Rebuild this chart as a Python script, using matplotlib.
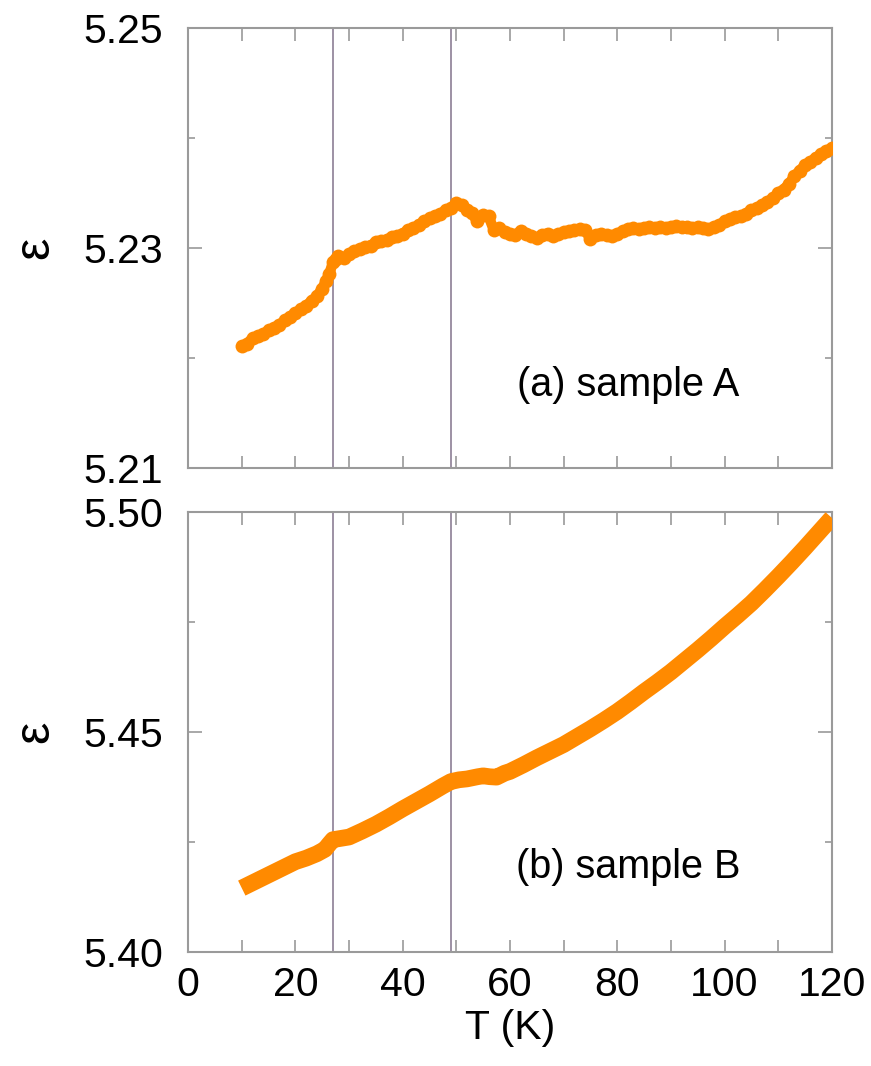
import matplotlib.pyplot as plt
from matplotlib.ticker import MultipleLocator, FuncFormatter

plt.rcParams["font.family"] = ["Liberation Sans", "DejaVu Sans"]

# sample A: temperature (K) and permittivity
tA = [10, 11, 12, 13, 14, 15, 16, 17, 18, 19, 20, 21, 22, 23, 24, 25,
      25.7, 26.3, 27, 27.5, 28, 29, 30, 31, 32, 33, 34, 35, 36, 37, 38, 39,
      40, 41, 42, 43, 44, 45, 46, 47, 48, 49, 50, 51, 52, 53, 53.8, 55, 56,
      57, 58, 59, 60, 61, 62, 63, 64, 65, 66, 67, 68, 69, 70, 71, 72, 73,
      74, 75, 76, 77, 78, 79, 80, 81, 82, 83, 84, 85, 86, 87, 88, 89, 90,
      91, 92, 93, 94, 95, 96, 97, 98, 99, 100, 101, 102, 103, 104, 105, 106,
      107, 108, 109, 110, 111, 112, 113, 114, 115, 116, 117, 118, 119, 120]
epsA = [5.2211, 5.2213, 5.2218, 5.2220, 5.2222, 5.2225, 5.2227, 5.2230,
        5.2234, 5.2237, 5.2241, 5.2244, 5.2247, 5.2252, 5.2256, 5.2263,
        5.2270, 5.2276, 5.2287, 5.2290, 5.2293, 5.2291, 5.2294, 5.2297,
        5.2299, 5.2301, 5.2302, 5.2305, 5.2306, 5.2307, 5.2310, 5.2311,
        5.2313, 5.2316, 5.2318, 5.2321, 5.2324, 5.2327, 5.2329, 5.2331,
        5.2334, 5.2336, 5.2341, 5.2339, 5.2334, 5.2332, 5.2324, 5.2330,
        5.2329, 5.2316, 5.2318, 5.2314, 5.2313, 5.2312, 5.2315, 5.2313,
        5.2311, 5.2309, 5.2312, 5.2313, 5.2311, 5.2313, 5.2314, 5.2315,
        5.2316, 5.2317, 5.2316, 5.2308, 5.2312, 5.2313, 5.2312, 5.2311,
        5.2313, 5.2315, 5.2317, 5.2318, 5.2317, 5.2318, 5.2319, 5.2318,
        5.2319, 5.2318, 5.2319, 5.2320, 5.2319, 5.2319, 5.2318, 5.2319,
        5.2318, 5.2317, 5.2319, 5.2321, 5.2324, 5.2326, 5.2328, 5.2329,
        5.2331, 5.2334, 5.2336, 5.2339, 5.2342, 5.2345, 5.2350, 5.2353,
        5.2358, 5.2365, 5.2370, 5.2375, 5.2378, 5.2382, 5.2385, 5.2388,
        5.2391]

# sample B
tB = [10, 12.5, 15, 17.5, 20, 22, 24, 25.5, 26.3, 27, 28, 30, 32.5, 35,
      37.5, 40, 42.5, 45, 47.5, 49, 50.5, 52, 54, 55, 56.2, 57.5, 59, 60,
      62.5, 65, 67.5, 70, 72.5, 75, 77.5, 80, 82.5, 85, 87.5, 90, 92.5, 95,
      97.5, 100, 102.5, 105, 107.5, 110, 112.5, 115, 117.5, 120]
epsB = [5.4145, 5.4160, 5.4175, 5.4190, 5.4205, 5.4213, 5.4223, 5.4233,
        5.4245, 5.4255, 5.4257, 5.4261, 5.4275, 5.4290, 5.4307, 5.4325,
        5.4342, 5.4359, 5.4377, 5.4387, 5.4391, 5.4393, 5.4398, 5.4400,
        5.4398, 5.4397, 5.4406, 5.4410, 5.4425, 5.4441, 5.4456, 5.4471,
        5.4489, 5.4507, 5.4526, 5.4546, 5.4568, 5.4591, 5.4613, 5.4636,
        5.4661, 5.4686, 5.4712, 5.4739, 5.4765, 5.4792, 5.4822, 5.4853,
        5.4885, 5.4918, 5.4952, 5.4986]

yticksA = [5.21, 5.23, 5.25]
yminorA = [5.22, 5.24]
yticksB = [5.40, 5.45, 5.50]
yminorB = [5.425, 5.475]

t_marks = [27, 49]
orange = "#ff8a00"
frame = "#9a9a9a"
vline = "#9d90a4"

fig = plt.figure(figsize=(8.71, 10.66), dpi=100)
axA = fig.add_axes([0.216, 0.561, 0.739, 0.413])
axB = fig.add_axes([0.216, 0.107, 0.739, 0.413])

axA.plot(tA, epsA, color=orange, lw=7.5, marker="o", ms=10, mew=0,
         solid_capstyle="round", zorder=3)
axB.plot(tB, epsB, color=orange, lw=12, solid_capstyle="butt", zorder=3)

for ax in (axA, axB):
    for tm in t_marks:
        ax.axvline(tm, color=vline, lw=1.4, zorder=2)
    ax.set_xlim(0, 120)
    ax.xaxis.set_major_locator(MultipleLocator(10))
    ax.tick_params(which="both", direction="in", top=True, right=True,
                   color=frame, width=1.2, labelsize=29.5)
    ax.tick_params(axis="y", which="major", length=10, pad=18)
    ax.tick_params(axis="y", which="minor", length=5)
    ax.tick_params(axis="x", which="major", length=9, pad=10)
    for s in ax.spines.values():
        s.set_color(frame)
        s.set_linewidth(1.5)
    ax.set_ylabel("ε", fontsize=36, labelpad=18)

axA.set_ylim(5.21, 5.25)
axA.set_yticks(yticksA)
axA.set_yticks(yminorA, minor=True)
axA.yaxis.set_major_formatter(FuncFormatter(lambda v, p: f"{v:.2f}"))
axA.tick_params(axis="x", labelbottom=False)

axB.set_ylim(5.40, 5.50)
axB.set_yticks(yticksB)
axB.set_yticks(yminorB, minor=True)
axB.yaxis.set_major_formatter(FuncFormatter(lambda v, p: f"{v:.2f}"))
axB.xaxis.set_major_formatter(
    FuncFormatter(lambda v, p: f"{v:.0f}" if round(v) % 20 == 0 else ""))
axB.set_xlabel("T (K)", fontsize=29.5, labelpad=4)

axA.text(82, 5.2175, "(a) sample A", fontsize=28.5, ha="center", va="center")
axB.text(82, 5.4193, "(b) sample B", fontsize=28.5, ha="center", va="center")

fig.savefig("out.png", dpi=100)
